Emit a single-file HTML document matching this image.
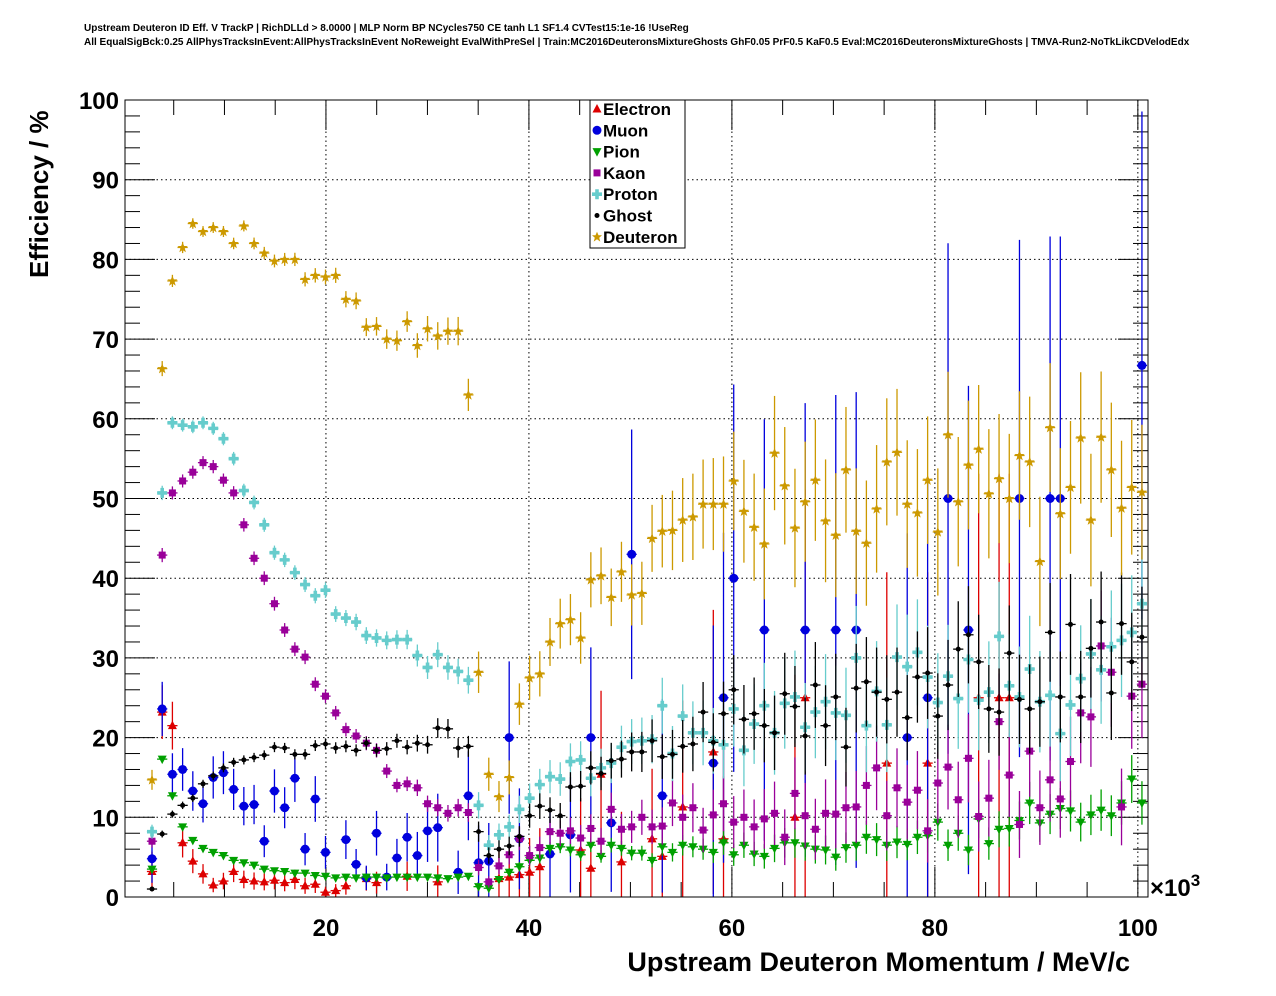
<!DOCTYPE html>
<html><head><meta charset="utf-8"><style>
body{margin:0;background:#fff;}
svg{display:block;font-family:"Liberation Sans",sans-serif;}
</style></head><body>
<svg id="chart" width="1276" height="996" viewBox="0 0 1276 996" xmlns="http://www.w3.org/2000/svg">
<text x="84" y="34" font-size="10" font-weight="bold" transform="translate(0,-3)">Upstream Deuteron ID Eff. V TrackP | RichDLLd &gt; 8.0000 | MLP Norm BP NCycles750 CE tanh L1 SF1.4 CVTest15:1e-16 !UseReg</text>
<text x="84" y="48" font-size="10" font-weight="bold" transform="translate(0,-3)">All EqualSigBck:0.25 AllPhysTracksInEvent:AllPhysTracksInEvent NoReweight EvalWithPreSel | Train:MC2016DeuteronsMixtureGhosts GhF0.05 PrF0.5 KaF0.5 Eval:MC2016DeuteronsMixtureGhosts | TMVA-Run2-NoTkLikCDVelodEdx</text>
<g id="grid"></g>
<g id="axes"></g>
<g id="marks"></g>
<rect x="125" y="100" width="1023" height="797" fill="none" stroke="#000" stroke-width="1"/>
<text x="1130" y="971" font-size="27" font-weight="bold" text-anchor="end">Upstream Deuteron Momentum / MeV/c</text>
<text transform="translate(48,278) rotate(-90)" font-size="26" font-weight="bold">Efficiency / %</text>
<text x="1150" y="896" font-size="24" font-weight="bold">×10<tspan font-size="17" dy="-10">3</tspan></text>
<g id="legend">
<rect x="590" y="100" width="95" height="148" fill="#fff" stroke="#000" stroke-width="1"/>
</g>
</svg>
<script>
const xTicks=[20,40,60,80,100];
const yTicks=[0,10,20,30,40,50,60,70,80,90,100];
const seriesNames=["Electron","Muon","Pion","Kaon","Proton","Ghost","Deuteron"];
const N=null;
const binEntries=[800,2500,3000,3000,3000,3000,2900,2900,2800,2800,2700,2600,2500,2400,2300,2200,2100,2000,1900,1800,1700,1600,1500,1400,1300,1200,900,800,700,700,650,570,300,300,290,280,270,260,250,240,230,220,210,200,190,180,170,160,150,140,120,100,90,85,80,75,70,65,60,55,51,48,46,45,44,43,42,41,40,40,40,39,39,39,39,39,39,39,39,38,38,38,38,38,38,38,37,37,37,37,36,36,36,36,35,35,35,35];
const electron=[3.2,23.2,21.5,6.8,4.5,2.9,1.5,2,3.2,2.2,2,1.9,2.1,1.8,2.2,1.4,1.6,0.6,0.8,1.4,N,2.3,1.8,N,N,2.6,N,N,1.9,N,N,N,N,N,2.3,2.5,2.8,3.1,3.8,N,N,N,5.9,3.6,15.4,N,4.4,N,N,7.3,5.1,N,11.3,N,N,18.2,7.3,N,N,N,N,N,N,10,25,N,N,N,N,N,N,N,16.8,N,N,N,16.8,N,N,N,N,25,N,25,25,N,N,N,N,N,N,N,N,N,N,N,N,N];
const muon=[4.8,23.6,15.4,16,13.3,11.7,15,15.6,13.5,11.4,11.6,7,13.3,11.2,14.9,6,12.3,5.6,N,7.2,4.1,2.4,8,2.5,4.9,7.5,5.2,8.3,8.7,N,3.1,12.7,4.3,4.5,N,20,7.3,N,N,5.4,N,7.8,N,20,N,9.3,N,43,N,N,12.7,N,N,N,N,16.8,25,40,N,N,33.5,N,N,N,33.5,N,N,33.5,N,33.5,N,N,N,N,20,N,25,N,50,N,33.5,N,N,N,N,50,N,N,50,50,N,N,N,N,N,N,N,66.7];
const pion=[3.5,17.3,12.7,8.8,7.1,6.1,5.6,5.2,4.6,4.3,4,3.5,3.3,3.2,3,3,2.7,2.6,2.4,2.5,2.4,2.5,2.5,2.4,2.5,2.5,2.5,2.5,2.4,2.3,2.5,2.6,1.3,1.1,2.2,3.1,3.8,4.6,4.9,6.1,6.3,5.9,5.3,6.5,5.1,6.5,6.1,5.5,5.5,4.6,6.3,5.6,6.5,6.3,6,5.6,6.8,5.3,6.5,5.4,5.1,6.1,6.8,6.8,6.4,6,5.9,5,6.2,6.5,7.5,7.2,6.5,6.9,6.6,7.5,7.7,9.4,6.5,8,5.9,9.8,6.7,8.5,8.6,9.6,11.8,9.3,10.4,11.1,10.8,9.4,10.3,10.9,10.2,11.8,14.8,11.8];
const kaon=[7,42.9,50.7,52.2,53.3,54.5,54,52.3,50.7,46.7,42.5,40,36.8,33.5,31.1,30.1,26.7,25.2,23.1,21,20.2,19.3,18.4,15.8,14,14.2,13.7,11.7,11.2,10.5,11.2,10.6,3.7,1.9,3.9,5.3,7.3,5.2,6.2,8.2,8,8.3,7.4,8.6,7,11,8.5,8.8,10,8.8,8.9,11.8,10,11.2,8.4,10.3,11.7,9.4,10,8.8,9.8,10.5,7.5,13,10.2,8.5,10.5,10.4,11.2,11.3,14,16.2,10.2,13.7,11.9,13.4,8.3,14.3,16.3,12.2,17.4,10.1,12.4,22,15.3,9.1,18.3,11.2,14.7,12.3,17,23.1,22.6,31.5,28.2,11.3,25.2,26.7];
const proton=[8.2,50.7,59.5,59.2,59,59.5,58.8,57.5,55,51,49.5,46.7,43.2,42.3,40.7,39.2,37.8,38.5,35.5,35,34.5,32.8,32.5,32.2,32.3,32.3,30.3,28.8,30.4,28.8,28.3,27.2,11.5,6.5,7.8,8.8,11,12.4,14.1,15.1,14.8,17,17.2,14.9,16.2,16.8,18.8,19.5,19.6,19.8,24,18,22.7,20.6,20.6,19.6,19.1,23.6,18.4,21.7,24,20.6,24.3,25.1,21.3,23.2,24.5,23.1,22.8,30,21.5,25.8,21.6,30.1,28.9,30.7,27.6,24.4,27.7,24.9,29.8,24.7,25.7,32.7,26.5,25.1,28.6,24.5,25.3,20.5,24.1,27.4,30.5,28.5,31.4,32.2,33.2,36.8];
const ghost=[1,7.9,10.4,11.5,12.4,14.2,15.2,16.2,16.9,17.2,17.5,17.8,18.8,18.7,17.9,17.9,19,19.2,18.7,18.9,18.4,19.3,18.4,18.6,19.6,18.8,19.3,19.1,21.2,21.1,18.7,18.9,8.2,5.2,6,6.4,7.6,10.2,11.4,10.9,10.2,13.8,13.9,16.2,15.5,17.1,17.3,18.2,18.2,19.6,17.6,17.9,18.9,19.2,23.2,19.4,23,26,22.3,23,21.5,20.6,25.5,23.9,20.2,26.6,21.5,25.1,18.8,26.2,27,25.7,24.8,25.7,22.5,27.6,28.1,22.7,26.6,31.1,32.9,29.5,23.6,23.2,30.6,24.8,23.6,24.5,33.2,25.1,34.2,25.1,31.2,34.5,25.6,34.3,29.5,32.6];
const deuteron=[14.7,66.3,77.3,81.5,84.5,83.5,84,83.5,82,84.2,82,80.8,79.8,80,80,77.5,78,77.8,78,75,74.8,71.5,71.6,70,69.8,72.2,69.2,71.3,70.4,71,71,63,28.2,15.4,12.6,15,24.2,27.5,28,32,34.3,34.8,32.5,39.8,40.3,37.6,40.8,37.9,38.1,45,45.9,46,47.3,47.7,49.3,49.3,49.3,52.2,48.4,46.4,44.3,55.7,51.6,46.3,49.6,52.3,47.2,45.4,53.6,45.9,44.4,48.7,54.6,55.8,49.3,48.2,52.3,45.8,58,49.6,54.2,56.2,50.6,52.5,50,55.4,54.6,42.1,58.9,48.1,51.4,57.6,47.3,57.7,53.6,48.8,51.4,50.8];
const binWidth=1.0056, firstBin=2.86;

const X0=125,X1=1148,Y0=897,Y1=100;
const xMin=0.2,xMax=101;
function xs(v){return X0+(v-xMin)/(xMax-xMin)*(X1-X0);}
function ys(v){return Y0-(v/100)*(Y0-Y1);}
const NS="http://www.w3.org/2000/svg";
function mk(tag,attrs,parent){const e=document.createElementNS(NS,tag);for(const k in attrs)e.setAttribute(k,attrs[k]);parent.appendChild(e);return e;}
const grid=document.getElementById('grid'),axes=document.getElementById('axes'),marks=document.getElementById('marks'),legend=document.getElementById('legend');

xTicks.forEach(t=>{
 const g=mk('line',{x1:xs(t),x2:xs(t),y1:Y1,y2:Y0,stroke:'#000','stroke-width':1,'stroke-dasharray':'1.5,3'},grid);
 
 
 const l=mk('text',{x:xs(t),y:936,'font-size':24,'font-weight':'bold','text-anchor':'middle'},axes);
 l.textContent=t;
 
 
});
yTicks.forEach(t=>{
 if(t>0&&t<100){const g=mk('line',{x1:X0,x2:X1,y1:ys(t),y2:ys(t),stroke:'#000','stroke-width':1,'stroke-dasharray':'1.5,3'},grid);
 
 }
 const l=mk('text',{x:119,y:ys(t)+9,'font-size':24,'font-weight':'bold','text-anchor':'end'},axes);
 l.textContent=t;
 
 
});
for(let v=5;v<=100;v+=5){const len=(v%20===0)?30:15;
 mk('line',{x1:xs(v),x2:xs(v),y1:Y0,y2:Y0-len,stroke:'#000'},axes);
 mk('line',{x1:xs(v),x2:xs(v),y1:Y1,y2:Y1+len,stroke:'#000'},axes);}
for(let v=2;v<100;v+=2){const len=(v%10===0)?30:15;
 mk('line',{x1:X0,x2:X0+len,y1:ys(v),y2:ys(v),stroke:'#000'},axes);
 mk('line',{x1:X1,x2:X1-len,y1:ys(v),y2:ys(v),stroke:'#000'},axes);}

const colors=["#dd0000","#0000dd","#00a000","#990099","#66cccc","#000000","#cc9900"];
const errScale=[4,4,0.5,0.9,0.9,0.8,1];
const data=[electron,muon,pion,kaon,proton,ghost,deuteron];
function marker(type,cx,cy,col,parent){
 let e;
 if(type===0) e=mk('polygon',{points:`${cx},${cy-5} ${cx-4.5},${cy+3.5} ${cx+4.5},${cy+3.5}`,fill:col},parent);
 else if(type===1) e=mk('circle',{cx:cx,cy:cy,r:4.5,fill:col},parent);
 else if(type===2) e=mk('polygon',{points:`${cx},${cy+5} ${cx-4.5},${cy-3.5} ${cx+4.5},${cy-3.5}`,fill:col},parent);
 else if(type===3) e=mk('rect',{x:cx-3.5,y:cy-3.5,width:7,height:7,fill:col},parent);
 else if(type===4) e=mk('path',{d:`M${cx-1.8},${cy-5}h3.6v3.2h3.2v3.6h-3.2v3.2h-3.6v-3.2h-3.2v-3.6h3.2z`,fill:col},parent);
 else if(type===5) e=mk('circle',{cx:cx,cy:cy,r:2.5,fill:col},parent);
 else e=mk('path',{d:`M${cx},${cy-5}L${cx+1.5},${cy-1.5}L${cx+5},${cy-1.5}L${cx+2.2},${cy+1}L${cx+3.3},${cy+4.8}L${cx},${cy+2.5}L${cx-3.3},${cy+4.8}L${cx-2.2},${cy+1}L${cx-5},${cy-1.5}L${cx-1.5},${cy-1.5}z`,fill:col},parent);
 return e;
}
data.forEach((arr,s)=>{
 const g=mk('g',{},marks);
 
 
 arr.forEach((v,k)=>{
  if(v===null) return;
  const xv=firstBin+k*binWidth;
  const cx=xs(xv),cy=ys(v);
  const err=errScale[s]*Math.sqrt(Math.max(v*(100-v),25))/Math.sqrt(binEntries[k]);
  const lo=Math.max(0,v-err),hi=Math.min(100,v+err);
  mk('line',{x1:cx,x2:cx,y1:ys(hi),y2:ys(lo),stroke:colors[s],'stroke-width':1.3},g);
  mk('line',{x1:xs(xv-binWidth/2),x2:xs(xv+binWidth/2),y1:cy,y2:cy,stroke:colors[s],'stroke-width':1.3},g);
  const m=marker(s,cx,cy,colors[s],g);
  
  
 });
});
seriesNames.forEach((n,i)=>{
 const y=109+i*21.3;
 const g=mk('g',{},legend);
 
 
 marker(i,597,y,colors[i],g);
 const t=mk('text',{x:603,y:y+6,'font-size':17,'font-weight':'bold'},g);
 t.textContent=n;
});
</script>
</body></html>
